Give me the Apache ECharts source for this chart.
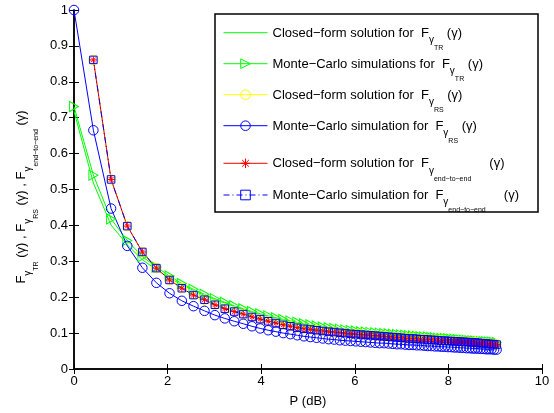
<!DOCTYPE html>
<html><head><meta charset="utf-8">
<script src="https://cdn.jsdelivr.net/npm/echarts@6/dist/echarts.min.js"></script>
<style>html,body{margin:0;padding:0;background:#fff}#c{width:554px;height:413px}</style>
</head><body><div id="c"></div>
<script>
// x positions in dB
const pdB = [0,0.414,0.792,1.139,1.461,1.761,2.041,2.304,2.553,2.788,
  3.010,3.222,3.424,3.617,3.802,3.979,4.150,4.314,4.472,4.624,
  4.771,4.914,5.051,5.185,5.315,5.441,5.563,5.682,5.798,5.911,
  6.021,6.128,6.232,6.335,6.435,6.532,6.628,6.721,6.812,6.902,
  6.990,7.076,7.160,7.243,7.324,7.404,7.482,7.559,7.634,7.709,
  7.782,7.853,7.924,7.993,8.062,8.129,8.195,8.261,8.325,8.388,
  8.451,8.513,8.573,8.633,8.692,8.751,8.808,8.865,8.921,8.976,
  9.031];
// F_gammaTR : closed form
const trClosed = [0.718,0.518,0.401,0.346,0.304,0.277,0.254,0.234,0.219,0.205,
  0.193,0.184,0.174,0.166,0.158,0.152,0.146,0.141,0.136,0.132,
  0.128,0.124,0.121,0.118,0.115,0.113,0.111,0.109,0.107,0.105,
  0.104,0.102,0.101,0.100,0.099,0.098,0.097,0.096,0.095,0.094,
  0.093,0.092,0.091,0.090,0.089,0.088,0.088,0.087,0.086,0.085,
  0.085,0.084,0.083,0.083,0.082,0.081,0.081,0.080,0.079,0.079,
  0.078,0.078,0.077,0.076,0.076,0.075,0.075,0.074,0.074,0.073,
  0.073];
// F_gammaTR : Monte-Carlo
const trMC = [0.731,0.540,0.418,0.358,0.313,0.284,0.259,0.238,0.222,0.208,
  0.196,0.186,0.176,0.168,0.160,0.154,0.148,0.143,0.138,0.134,
  0.130,0.126,0.123,0.120,0.117,0.115,0.113,0.111,0.109,0.107,
  0.106,0.104,0.103,0.102,0.101,0.100,0.099,0.098,0.097,0.096,
  0.095,0.094,0.093,0.092,0.091,0.090,0.089,0.089,0.088,0.087,
  0.086,0.085,0.085,0.084,0.083,0.083,0.082,0.081,0.081,0.080,
  0.079,0.079,0.078,0.077,0.077,0.076,0.076,0.075,0.075,0.074,
  0.074];
// F_gammaRS : Monte-Carlo
const rsMC = [1.000,0.665,0.447,0.343,0.282,0.240,0.211,0.190,0.175,0.162,
  0.150,0.141,0.133,0.126,0.119,0.113,0.108,0.104,0.100,0.097,
  0.094,0.091,0.089,0.087,0.085,0.083,0.082,0.080,0.079,0.078,
  0.077,0.076,0.075,0.074,0.073,0.072,0.072,0.071,0.070,0.069,
  0.069,0.068,0.067,0.067,0.066,0.066,0.065,0.064,0.064,0.063,
  0.063,0.062,0.062,0.061,0.061,0.060,0.060,0.059,0.059,0.058,
  0.058,0.057,0.057,0.057,0.056,0.056,0.055,0.055,0.055,0.054,
  0.054];
// end-to-end curve (closed form and Monte-Carlo coincide)
const e2e = [null,0.861,0.528,0.398,0.326,0.281,0.248,0.225,0.206,0.193,
  0.179,0.168,0.160,0.153,0.145,0.139,0.133,0.128,0.123,0.119,
  0.115,0.112,0.110,0.108,0.106,0.104,0.103,0.101,0.100,0.098,
  0.097,0.096,0.095,0.094,0.093,0.092,0.091,0.090,0.089,0.088,
  0.087,0.086,0.085,0.085,0.084,0.083,0.083,0.082,0.081,0.081,
  0.080,0.079,0.079,0.078,0.078,0.077,0.077,0.076,0.076,0.075,
  0.075,0.074,0.074,0.073,0.072,0.072,0.071,0.070,0.070,0.069,
  0.068];
const xTicks = [0,2,4,6,8,10];
const yTicks = [0,0.1,0.2,0.3,0.4,0.5,0.6,0.7,0.8,0.9,1];

const names = ['cfTR','mcTR','cfRS','mcRS','cfE2E','mcE2E'];
const legendText = {
  cfTR: '{m|Closed\u2212form solution for  F}{g|\u03b3}{t|TR}{m| (\u03b3)}',
  mcTR: '{m|Monte\u2212Carlo simulations for  F}{g|\u03b3}{t|TR}{m| (\u03b3)}',
  cfRS: '{m|Closed\u2212form solution for  F}{g|\u03b3}{t|RS}{m| (\u03b3)}',
  mcRS: '{m|Monte\u2212Carlo simulation for  F}{g|\u03b3}{t|RS}{m| (\u03b3)}',
  cfE2E: '{m|Closed\u2212form solution for  F}{g|\u03b3}{t|end\u2212to\u2212end}{m|     (\u03b3)}',
  mcE2E: '{m|Monte\u2212Carlo simulation for  F}{g|\u03b3}{t|end\u2212to\u2212end}{m|     (\u03b3)}'
};
const yTitle = '{m|F}{g|\u03b3}{t|TR}{m| (\u03b3) , F}{g|\u03b3}{t|RS}{m| (\u03b3) , F}{g|\u03b3}{t|end\u2212to\u2212end}{m| (\u03b3)}';

const FONT = "'Liberation Sans', Arial, Helvetica, sans-serif";
const rich = {
  m:{fontSize:13,fontFamily:FONT,color:'#000',fill:'#000',verticalAlign:'top',lineHeight:12,padding:[0,0,0,0]},
  g:{fontSize:10,fontFamily:FONT,color:'#000',fill:'#000',verticalAlign:'top',lineHeight:12,padding:[8.5,0,0,0]},
  t:{fontSize:7,fontFamily:FONT,color:'#000',fill:'#000',verticalAlign:'top',lineHeight:12,padding:[18,0,0,0]}
};

const TRI = 'path://M0,0L10,5L0,10Z';
const AST = 'path://M5,0L5,10M0,5L10,5M1.5,1.5L8.5,8.5M8.5,1.5L1.5,8.5';
const T = 'rgba(0,0,0,0)';

function pts(arr){ return pdB.map((x,i)=> arr[i]==null ? null : [x, arr[i]]).filter(Boolean); }

function mk(name, arr, symbol, size, color, dash){
  return {
    name, type:'line', data:pts(arr), symbol, symbolSize:size, showSymbol: symbol!=='none',
    lineStyle:{color, width:1, type: dash || 'solid'},
    itemStyle:{color:T, borderColor: symbol==='none'?T:color, borderWidth: symbol==='none'?0:1},
    emphasis:{disabled:true}, silent:true, animation:false
  };
}

const axisCommon = {
  axisLine:{lineStyle:{color:'#000',width:1.5}},
  axisTick:{inside:true,length:5,lineStyle:{color:'#000',width:1}},
  splitLine:{show:false}
};
const lblStyle = {color:'#000',fontSize:13,fontFamily:FONT};

const chart = echarts.init(document.getElementById('c'), null, {renderer:'canvas'});
chart.setOption({
  animation:false,
  grid:{left:74,right:12,top:10,bottom:43},
  xAxis:[
    Object.assign({type:'value',min:xTicks[0],max:xTicks[xTicks.length-1],interval:2,position:'bottom',
      axisLabel:Object.assign({margin:6},lblStyle),
      name:'P (dB)',nameLocation:'middle',nameGap:26,nameTextStyle:lblStyle}, axisCommon),
    Object.assign({type:'value',min:xTicks[0],max:xTicks[xTicks.length-1],interval:2,position:'top',
      axisLabel:{show:false}}, axisCommon)
  ],
  yAxis:[
    Object.assign({type:'value',min:yTicks[0],max:yTicks[yTicks.length-1],interval:0.1,position:'left',
      axisLabel:Object.assign({margin:6},lblStyle)}, axisCommon),
    Object.assign({type:'value',min:yTicks[0],max:yTicks[yTicks.length-1],interval:0.1,position:'right',
      axisLabel:{show:false}}, axisCommon)
  ],
  legend:[
    {data:names.slice(0,4),orient:'vertical',left:223,top:26.7,padding:0,itemGap:6,itemWidth:44,itemHeight:12,
     itemStyle:{borderWidth:1},lineStyle:{width:1},formatter:n=>legendText[n],textStyle:{rich},selectedMode:false},
    {data:names.slice(4),orient:'vertical',left:223,top:157.3,padding:0,itemGap:6.7,itemWidth:44,itemHeight:12,
     itemStyle:{borderWidth:1},lineStyle:{width:1},formatter:n=>legendText[n],textStyle:{rich},selectedMode:false}
  ],
  graphic:[
    {type:'rect',z:3,shape:{x:215,y:14,width:323,height:198},style:{fill:'#fff',stroke:'#000',lineWidth:1.5}},
    {type:'text',z:3,x:21,y:197,rotation:Math.PI/2,style:{text:yTitle,rich,align:'center',verticalAlign:'middle',fill:'#000'}}
  ],
  series:[
    mk(names[0], trClosed, 'none', 0, '#00ff00'),
    mk(names[1], trMC, TRI, [9,10], '#00ff00'),
    mk(names[2], e2e, 'circle', 9.5, '#ffff00'),
    mk(names[3], rsMC, 'circle', 9.5, '#0000ff'),
    mk(names[4], e2e, AST, 7, '#ff0000'),
    mk(names[5], e2e, 'rect', 7.5, '#0000ff', [6,3,1,3])
  ]
});
</script></body></html>
